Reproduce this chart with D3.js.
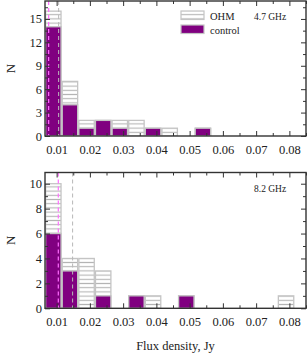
<!DOCTYPE html>
<html><head><meta charset="utf-8">
<script src="https://cdn.jsdelivr.net/npm/d3@7"></script>
<style>body{margin:0;background:#fff}svg{display:block}</style>
</head><body>
<svg id="c" width="307" height="357"></svg>
<script>
const binStarts = [0.0065,0.0115,0.0165,0.0215,0.0265,0.0315,0.0365,0.0415,0.0465,0.0515,0.0565,0.0615,0.0665,0.0715,0.0765];
const binWidth = 0.005;
const ohm47  = [16,7,2,2,2,2,1,1,0,1,0,0,0,0,0];
const ctrl47 = [14,4,1,2,1,0,1,0,0,1,0,0,0,0,0];
const ohm82  = [10,4,4,3,0,1,1,0,1,0,0,0,0,0,1];
const ctrl82 = [6,3,0,1,0,1,0,0,1,0,0,0,0,0,0];
const xTicks = [0.01,0.02,0.03,0.04,0.05,0.06,0.07,0.08];
const xMinor = [0.015,0.025,0.035,0.045,0.055,0.065,0.075,0.085];
const yTicks47 = [0,3,6,9,12,15], yMinor47=[1.5,4.5,7.5,10.5,13.5,16.5];
const yTicks82 = [0,2,4,6,8,10], yMinor82=[1,3,5,7,9];
const medOhm47 = 0.0106, medCtrl47 = 0.0076;
const medOhm82 = 0.0148, medCtrl82 = 0.0105;
const seriesNames = ["OHM","control"];

const svg = d3.select("#c");
const defs = svg.append("defs");
const pat = defs.append("pattern").attr("id","hatch").attr("patternUnits","userSpaceOnUse")
  .attr("width",8).attr("height",4.2);
pat.append("rect").attr("width",8).attr("height",4.2).attr("fill","#fff");
pat.append("line").attr("x1",0).attr("x2",8).attr("y1",2.1).attr("y2",2.1)
  .attr("stroke","#b4b4b4").attr("stroke-width",1.1);

const purple = "#800080", edge="#c4c4c4", axc="#333";
const font = "'Liberation Serif','Times New Roman',serif";
const L=45, R=306;
const x = d3.scaleLinear().domain([0.0065,0.085]).range([L,R]);

function panel(top,bottom,ymax,ohm,ctrl,yT,yM,medO,medC,label,legend){
  const y = d3.scaleLinear().domain([0,ymax]).range([bottom,top]);
  const g = svg.append("g");
  const cp = "clip"+label.replace(/\W/g,"");
  defs.append("clipPath").attr("id",cp).append("rect").attr("x",L).attr("y",top).attr("width",R-L).attr("height",bottom-top);
  const bars = g.append("g").attr("clip-path",`url(#${cp})`);
  bars.selectAll(".o").data(binStarts.map((s,i)=>({s,v:ohm[i]})).filter(d=>d.v>0)).join("rect")
    .attr("x",d=>x(d.s)+0.6).attr("width",d=>x(d.s+binWidth)-x(d.s)-1.2)
    .attr("y",d=>y(d.v)).attr("height",d=>y(0)-y(d.v))
    .attr("fill","url(#hatch)").attr("stroke",edge).attr("stroke-width",1.3);
  bars.selectAll(".c").data(binStarts.map((s,i)=>({s,v:ctrl[i]})).filter(d=>d.v>0)).join("rect")
    .attr("x",d=>x(d.s)+0.6).attr("width",d=>x(d.s+binWidth)-x(d.s)-1.2)
    .attr("y",d=>y(d.v)).attr("height",d=>y(0)-y(d.v))
    .attr("fill",purple).attr("stroke",edge).attr("stroke-width",1.3);
  bars.append("line").attr("x1",x(medO)).attr("x2",x(medO)).attr("y1",top).attr("y2",bottom)
    .attr("stroke","#b8b8b8").attr("stroke-width",1).attr("stroke-dasharray","4,3");
  bars.append("line").attr("x1",x(medC)).attr("x2",x(medC)).attr("y1",top).attr("y2",bottom)
    .attr("stroke","#ff6cff").attr("stroke-width",1.2).attr("stroke-dasharray","4,3");

  function styleAxis(a){a.select(".domain").remove();a.selectAll("line").attr("stroke",axc).attr("stroke-width",1);
    a.selectAll("text").attr("font-family",font).attr("font-size",12.5).attr("fill","#222");}
  g.append("g").attr("transform",`translate(0,${bottom})`).call(d3.axisBottom(x).tickValues(xTicks).tickFormat(d3.format(".2f")).tickSize(-5).tickPadding(9)).call(styleAxis);
  g.append("g").attr("transform",`translate(0,${bottom})`).call(d3.axisBottom(x).tickValues(xMinor).tickFormat("").tickSize(-3)).call(styleAxis);
  g.append("g").attr("transform",`translate(0,${top})`).call(d3.axisTop(x).tickValues(xTicks).tickFormat("").tickSize(-5)).call(styleAxis);
  g.append("g").attr("transform",`translate(0,${top})`).call(d3.axisTop(x).tickValues(xMinor).tickFormat("").tickSize(-3)).call(styleAxis);
  g.append("g").attr("transform",`translate(${L},0)`).call(d3.axisLeft(y).tickValues(yT).tickSize(-5).tickPadding(3)).call(styleAxis);
  g.append("g").attr("transform",`translate(${L},0)`).call(d3.axisLeft(y).tickValues(yM).tickFormat("").tickSize(-3)).call(styleAxis);
  g.append("g").attr("transform",`translate(${R},0)`).call(d3.axisRight(y).tickValues(yT).tickFormat("").tickSize(-5)).call(styleAxis);
  g.append("g").attr("transform",`translate(${R},0)`).call(d3.axisRight(y).tickValues(yM).tickFormat("").tickSize(-3)).call(styleAxis);
  g.append("rect").attr("x",L).attr("y",top).attr("width",R-L).attr("height",bottom-top)
    .attr("fill","none").attr("stroke",axc).attr("stroke-width",1.4);
  g.append("text").attr("x",254).attr("y",top+19).attr("font-family",font).attr("font-size",9.5).attr("fill","#222").text(label);
  g.append("text").attr("transform",`translate(15,${(top+bottom)/2}) rotate(-90)`).attr("text-anchor","middle")
    .attr("font-family",font).attr("font-size",13).attr("fill","#222").text("N");
  if(legend){
    const lg = g.append("g");
    [["url(#hatch)",seriesNames[0]],[purple,seriesNames[1]]].forEach((d,i)=>{
      lg.append("rect").attr("x",181).attr("y",top+10+i*14).attr("width",23).attr("height",8.5)
        .attr("fill",d[0]).attr("stroke",edge).attr("stroke-width",1.2);
      lg.append("text").attr("x",210).attr("y",top+19+i*13.5).attr("font-family",font).attr("font-size",10.5).attr("fill","#222").text(d[1]);
    });
  }
}
panel(1,136,17.3,ohm47,ctrl47,yTicks47,yMinor47,medOhm47,medCtrl47,"4.7 GHz",true);
panel(172.5,308.3,10.9,ohm82,ctrl82,yTicks82,yMinor82,medOhm82,medCtrl82,"8.2 GHz",false);
svg.append("text").attr("x",(L+R)/2).attr("y",350).attr("text-anchor","middle")
  .attr("font-family",font).attr("font-size",12.5).attr("fill","#222").text("Flux density, Jy");
</script>
</body></html>
